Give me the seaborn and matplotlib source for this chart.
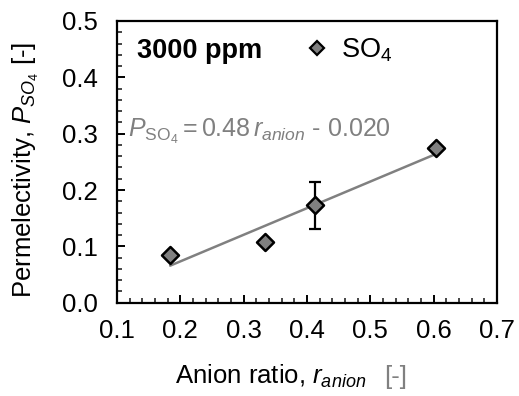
import matplotlib
matplotlib.use("Agg")
import matplotlib.pyplot as plt
import seaborn as sns
import pandas as pd
from matplotlib.lines import Line2D
from matplotlib.ticker import MultipleLocator

anion_ratio = [0.184, 0.334, 0.412, 0.604]
permselectivity = [0.085, 0.107, 0.173, 0.275]
error = [0.0, 0.0, 0.042, 0.0]
xticks = [0.1, 0.2, 0.3, 0.4, 0.5, 0.6, 0.7]
yticks = [0.0, 0.1, 0.2, 0.3, 0.4, 0.5]

sns.set_theme(style="ticks")
plt.rcParams['font.family'] = ['Liberation Sans', 'DejaVu Sans']
plt.rcParams['mathtext.fontset'] = 'custom'
plt.rcParams['mathtext.rm'] = 'Liberation Sans'
plt.rcParams['mathtext.it'] = 'Liberation Sans:italic'
plt.rcParams['mathtext.bf'] = 'Liberation Sans:bold'
plt.rcParams['text.color'] = 'black'
plt.rcParams['axes.labelcolor'] = 'black'

df = pd.DataFrame({"x": anion_ratio, "y": permselectivity, "err": error})

fig = plt.figure(figsize=(5.19, 3.96), dpi=100)
ax = fig.add_axes([0.2254, 0.2356, 0.7322, 0.7114])

sns.regplot(data=df, x="x", y="y", ax=ax, scatter=False, ci=None, truncate=True,
            line_kws=dict(color="#808080", lw=1.8, zorder=2))
e = df[df.err > 0]
ax.errorbar(e.x, e.y, yerr=e.err, fmt="none", ecolor="black", elinewidth=1.6,
            capsize=4.5, capthick=1.6, zorder=3)
sns.scatterplot(data=df, x="x", y="y", ax=ax, marker="D", s=75, color="#808080",
                edgecolor="black", linewidth=1.8, zorder=4, legend=False)

ax.set_xlim(0.1, 0.7)
ax.set_ylim(0.0, 0.5)
ax.set_xticks(xticks)
ax.set_yticks(yticks)
ax.set_xticklabels([f"{v:.1f}" for v in xticks])
ax.set_yticklabels([f"{v:.1f}" for v in yticks])
ax.xaxis.set_minor_locator(MultipleLocator(0.02))
ax.yaxis.set_minor_locator(MultipleLocator(0.02))
ax.tick_params(axis="both", which="major", direction="in", length=6, width=1.4,
               labelsize=18.5, colors="black")
ax.tick_params(axis="x", which="major", pad=12)
ax.tick_params(axis="y", which="major", pad=14)
ax.tick_params(axis="both", which="minor", direction="in", length=3.5, width=1.2)
ax.tick_params(top=False, right=False, which="both")
for s in ax.spines.values():
    s.set_linewidth(1.6)
    s.set_color("black")

ax.set_xlabel("")
ax.set_ylabel("")
ax.text(0.657, -0.2886, r"Anion ratio, $r_{anion}$", transform=ax.transAxes,
        fontsize=18.5, color="black", ha="right", va="baseline")
ax.text(0.704, -0.2886, "[-]", transform=ax.transAxes, fontsize=18.5,
        color="#808080", ha="left", va="baseline")
ax.text(-0.2, 0.47, r"Permelectivity, $P_{SO_4}$ [-]", transform=ax.transAxes,
        fontsize=18.5, color="black", rotation=90, rotation_mode="anchor",
        ha="center", va="bottom")

ax.text(0.053, 0.869, "3000 ppm", transform=ax.transAxes, fontsize=19.5,
        fontweight="bold", color="black", ha="left", va="baseline")
handle = Line2D([], [], marker="D", linestyle="none", markerfacecolor="#808080",
                markeredgecolor="black", markeredgewidth=1.6, markersize=7.5)
leg = ax.legend([handle], [r"SO$_4$"], loc="center left", bbox_to_anchor=(0.49, 0.895),
                frameon=False, fontsize=19.5, handletextpad=0.4, borderaxespad=0,
                handlelength=1.0, borderpad=0)
for t in leg.get_texts():
    t.set_color("black")

ax.text(0.03, 0.589, r"$P_{\mathrm{SO_4}} = 0.48\,r_{anion}$ - 0.020",
        transform=ax.transAxes, fontsize=18, color="#808080", ha="left",
        va="baseline")

fig.savefig("out.png", dpi=100)
